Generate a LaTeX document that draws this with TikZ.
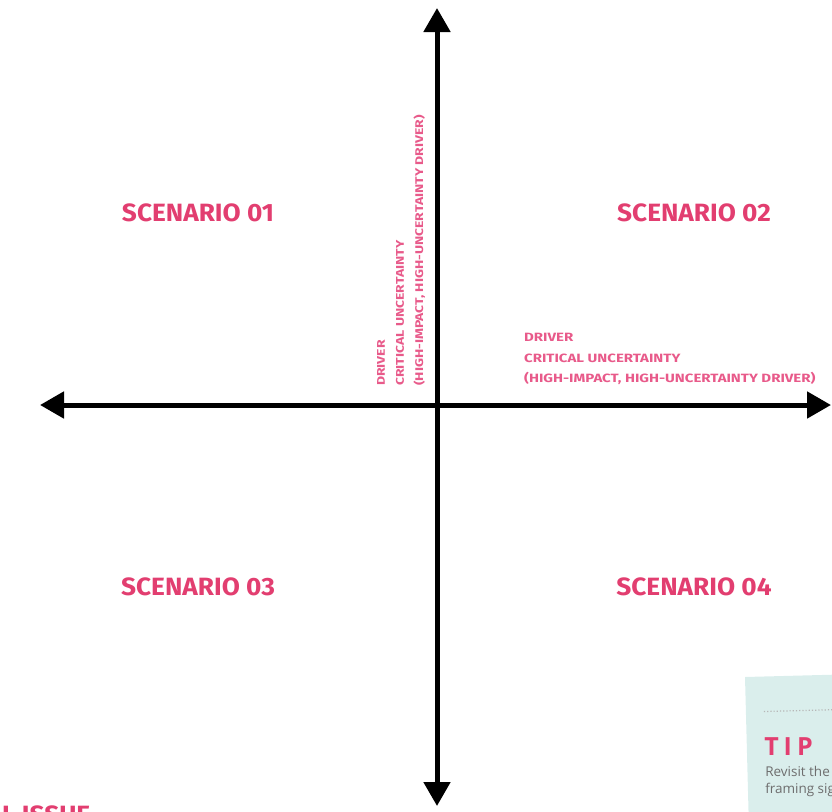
\documentclass[tikz,border=0pt]{standalone}
\usepackage{fontspec}
\usetikzlibrary{arrows.meta}
\newfontfamily\scenfont[FakeStretch=1.05]{Fira Sans}
\newfontfamily\lblfont[FakeStretch=1.25]{Fira Sans}
\newfontfamily\tipfont{Open Sans}
\definecolor{scenpink}{RGB}{226,62,112}
\definecolor{lblpink}{RGB}{232,90,138}
\definecolor{tipbg}{RGB}{218,238,236}
\definecolor{tipgray}{RGB}{110,110,110}
\tikzset{
  axisboth/.style={line width=5pt, draw=black, {Triangle[width=26pt,length=24pt]}-{Triangle[width=26pt,length=24pt]}},
  scen/.style={font=\scenfont\bfseries\fontsize{25}{28}\selectfont, text=scenpink, inner sep=0pt},
  lbl/.style={font=\lblfont\bfseries\fontsize{12}{20.5}\selectfont, text=lblpink, inner sep=0pt, align=left},
}
\begin{document}
\begin{tikzpicture}[x=1pt,y=-1pt]
\useasboundingbox (0,0) rectangle (832,811);
\clip (0,0) rectangle (832,811);
% TIP card
\begin{scope}[rotate around={1.5:(745,677)}]
\fill[tipbg] (745,677) rectangle (900,830);
\draw[tipgray!50, dotted, line width=1.2pt] (763,712) -- (832,712);
\node[anchor=base west, inner sep=0pt, font=\tipfont\bfseries\fontsize{25}{26}\selectfont, text=scenpink] (tip) at (762,756) {T\hspace{5pt}I\hspace{5pt}P};
\node[anchor=base west, inner sep=0pt, align=left, font=\tipfont\fontsize{13.5}{17}\selectfont, text=tipgray] (tiptext) at (762,794) {Revisit the scenario\\framing signals};
\end{scope}
% axes
\coordinate (L) at (40,405);
\coordinate (R) at (831,405);
\coordinate (T) at (437,8);
\coordinate (B) at (437,806);
\draw[axisboth] (L) -- (R);
\draw[axisboth] (B) -- (T);
% scenarios
\node[scen] (s1) at (198,213) {SCENARIO 01};
\node[scen] (s2) at (694,213) {SCENARIO 02};
\node[scen] (s3) at (198,587) {SCENARIO 03};
\node[scen] (s4) at (694,587) {SCENARIO 04};
% axis labels
\node[lbl, anchor=north west] (hlab) at (524,333) {DRIVER\\CRITICAL UNCERTAINTY\\(HIGH-IMPACT, HIGH-UNCERTAINTY DRIVER)};
\node[lbl, anchor=north west, rotate=90, scale=0.93] (vlab) at (377,386) {DRIVER\\CRITICAL UNCERTAINTY\\(HIGH-IMPACT, HIGH-UNCERTAINTY DRIVER)};
% cut-off title
\node[scen, anchor=north west] (issue) at (2,806) {L ISSUE};
\end{tikzpicture}
\end{document}
